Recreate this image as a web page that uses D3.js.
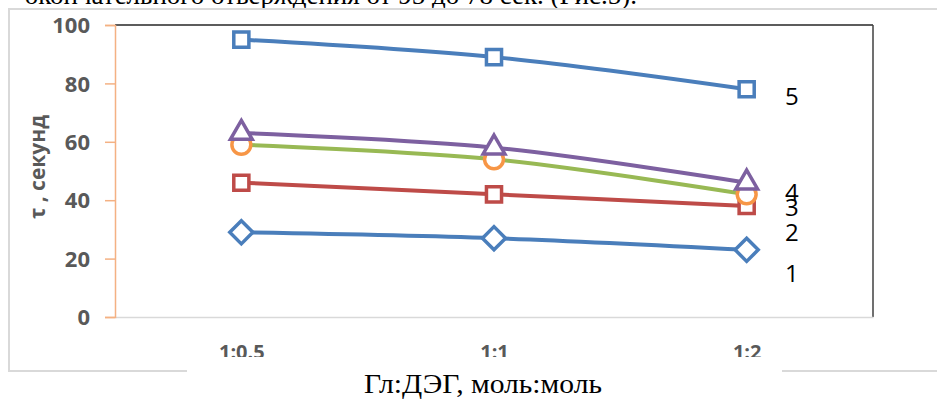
<!DOCTYPE html>
<html>
<head>
<meta charset="utf-8">
<script src="https://cdn.jsdelivr.net/npm/d3@7"></script>
<style>
  html, body { margin: 0; padding: 0; background: #fff; }
  svg { display: block; }
</style>
</head>
<body>
<svg id="chart" width="937" height="399"></svg>
<script>
// Molar ratio glycerol : diethylene glycol
const categories = ["1:0.5", "1:1", "1:2"];
// Curing time, seconds, per formulation 1..5
const series1 = [29, 27, 23];
const series2 = [46, 42, 38];
const series3 = [59, 54, 42];
const series4 = [63, 58, 46];
const series5 = [95, 89, 78];
const yTicks = [0, 20, 40, 60, 80, 100];
const seriesNames = ["1", "2", "3", "4", "5"];
// Vertical placement of the curve numbers at the right end, in seconds
const labelLevels = [15, 29, 37.5, 42.5, 75.5];

const svg = d3.select("#chart");
const W = 937, H = 399;
const plot = { left: 115, right: 873, top: 25, bottom: 317 };

// Sentence fragment above the figure (cut by the page edge)
svg.append("text")
  .attr("x", 637).attr("y", 4)
  .attr("text-anchor", "end")
  .attr("font-family", "Liberation Serif, Times New Roman, serif")
  .attr("font-size", 27)
  .attr("fill", "#000")
  .text("окончательного отверждения от 95 до 78 сек. (Рис.5).");

// Outer chart frame
svg.append("rect")
  .attr("x", 9).attr("y", 9)
  .attr("width", W + 20).attr("height", 362)
  .attr("fill", "#fff")
  .attr("stroke", "#d9d9d9").attr("stroke-width", 2);

const x = d3.scalePoint().domain(categories)
  .range([plot.left, plot.right]).padding(0.5);
const y = d3.scaleLinear().domain([0, 100]).range([plot.bottom, plot.top]);

// Plot area borders
svg.append("line")
  .attr("x1", plot.left).attr("x2", plot.right)
  .attr("y1", plot.top).attr("y2", plot.top)
  .attr("stroke", "#262626").attr("stroke-width", 1.5);
svg.append("line")
  .attr("x1", plot.right).attr("x2", plot.right)
  .attr("y1", plot.top).attr("y2", plot.bottom)
  .attr("stroke", "#404040").attr("stroke-width", 1.5);

// X axis: plain light line, category labels below
const xAxisG = svg.append("g")
  .attr("transform", `translate(0,${plot.bottom})`)
  .call(d3.axisBottom(x).tickSize(0).tickPadding(28));
xAxisG.select(".domain").attr("stroke", "#d9d9d9").attr("stroke-width", 1.5);
xAxisG.selectAll("text")
  .attr("font-family", "Open Sans, sans-serif")
  .attr("font-weight", 700)
  .attr("font-size", 20)
  .attr("fill", "#595959");

// Y axis in orange with outward ticks
const yAxisG = svg.append("g")
  .attr("transform", `translate(${plot.left},0)`)
  .call(d3.axisLeft(y).tickValues(yTicks).tickSize(10).tickPadding(15));
yAxisG.select(".domain").attr("stroke", "#f4b183").attr("stroke-width", 1.5);
yAxisG.selectAll(".tick line").attr("stroke", "#f4b183").attr("stroke-width", 1.5);
yAxisG.selectAll("text")
  .attr("font-family", "Open Sans, sans-serif")
  .attr("font-weight", 700)
  .attr("font-size", 22)
  .attr("fill", "#595959")
  .attr("dy", "0.35em");

// Y axis title
svg.append("text")
  .attr("transform", `translate(45,${(plot.top + plot.bottom) / 2 - 4}) rotate(-90)`)
  .attr("text-anchor", "middle")
  .attr("font-family", "Open Sans, sans-serif")
  .attr("font-weight", 700)
  .attr("font-size", 21)
  .attr("fill", "#595959")
  .text("τ , секунд");

const line = d3.line()
  .x((d, i) => x(categories[i]))
  .y(d => y(d))
  .curve(d3.curveCatmullRom.alpha(0.5));

const seriesDefs = [
  { values: series1, line: "#4a7ebb", marker: "#4a7ebb", shape: "diamond" },
  { values: series2, line: "#be4b48", marker: "#be4b48", shape: "square" },
  { values: series3, line: "#98b954", marker: "#f79646", shape: "circle" },
  { values: series4, line: "#7d60a0", marker: "#7d60a0", shape: "triangle" },
  { values: series5, line: "#4a7ebb", marker: "#4a7ebb", shape: "square" }
];

const symbolOf = {
  diamond: d3.symbol().type(d3.symbolDiamond2).size(340),
  square: d3.symbol().type(d3.symbolSquare2).size(290),
  circle: d3.symbol().type(d3.symbolCircle).size(280),
  triangle: d3.symbol().type(d3.symbolTriangle2).size(340)
};

seriesDefs.forEach(s => {
  const g = svg.append("g");
  g.append("path")
    .attr("d", line(s.values))
    .attr("fill", "none")
    .attr("stroke", s.line)
    .attr("stroke-width", 4)
    .attr("stroke-linejoin", "round");
  g.selectAll("path.mk")
    .data(s.values)
    .join("path")
    .attr("class", "mk")
    .attr("transform", (d, i) => `translate(${x(categories[i])},${y(d)})`)
    .attr("d", symbolOf[s.shape]())
    .attr("fill", "#fff")
    .attr("stroke", s.marker)
    .attr("stroke-width", 3.5);
});

// Curve numbers
svg.selectAll("text.num")
  .data(seriesNames)
  .join("text")
  .attr("class", "num")
  .attr("x", 785)
  .attr("y", (d, i) => y(labelLevels[i]))
  .attr("dy", "0.35em")
  .attr("font-family", "Open Sans, sans-serif")
  .attr("font-size", 24)
  .attr("fill", "#000")
  .text(d => d);

// Caption panel over the lower frame edge
svg.append("rect")
  .attr("x", 187).attr("y", 357)
  .attr("width", 595).attr("height", 42)
  .attr("fill", "#fff");
svg.append("text")
  .attr("x", 483).attr("y", 393)
  .attr("text-anchor", "middle")
  .attr("font-family", "Liberation Serif, Times New Roman, serif")
  .attr("font-size", 27)
  .attr("textLength", 238)
  .attr("lengthAdjust", "spacingAndGlyphs")
  .attr("fill", "#000")
  .text("Гл:ДЭГ, моль:моль");
</script>
</body>
</html>
